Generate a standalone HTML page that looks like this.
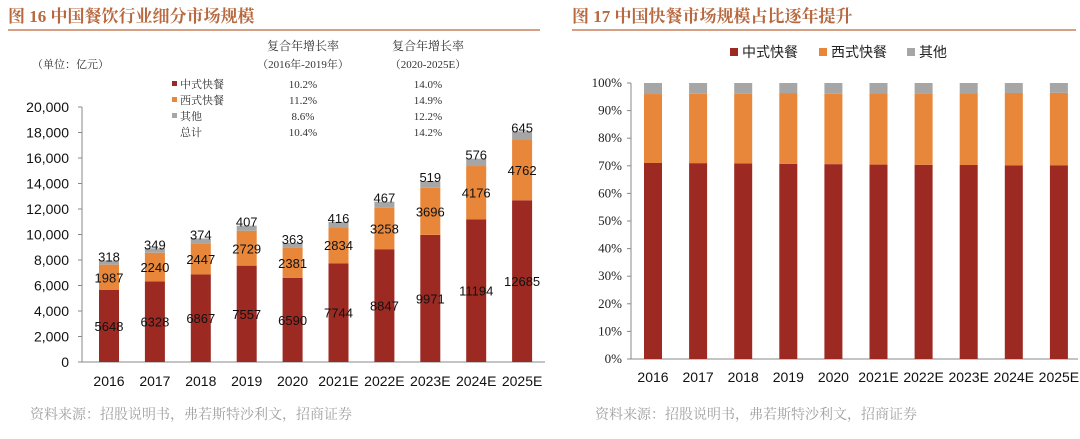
<!DOCTYPE html>
<html><head><meta charset="utf-8"><style>
body{margin:0;background:#fff;width:1080px;height:434px;overflow:hidden;font-family:"Liberation Sans","Noto Sans CJK SC",sans-serif}
svg text{font-family:"Liberation Sans","Noto Sans CJK SC",sans-serif}
svg text.sf, svg .sf text{font-family:"Liberation Serif","Noto Serif CJK SC",serif}
</style></head><body>
<svg id="c" width="1080" height="434">
<g>
<text class="sf" x="8" y="22" font-size="17" font-weight="bold" fill="#b8683e">图 16  中国餐饮行业细分市场规模</text>
<line x1="8" y1="30" x2="540" y2="30" stroke="#c7805a" stroke-width="1.5"/>
</g>
<g>
<text class="sf" x="572" y="22" font-size="17" font-weight="bold" fill="#b8683e">图 17 中国快餐市场规模占比逐年提升</text>
<line x1="572" y1="30" x2="1076" y2="30" stroke="#c7805a" stroke-width="1.5"/>
</g>
<text class="sf" x="32" y="68" font-size="11" fill="#333">（单位：亿元）</text>
<g class="sf" font-size="11" fill="#333">
<text x="303" y="50" text-anchor="middle" font-size="12">复合年增长率</text>
<text x="303" y="68" text-anchor="middle">（2016年-2019年）</text>
<text x="428" y="50" text-anchor="middle" font-size="12">复合年增长率</text>
<text x="428" y="68" text-anchor="middle">（2020-2025E）</text>
<rect x="172" y="81" width="5" height="5" fill="#9c2a22"/><text x="180" y="88">中式快餐</text>
<rect x="172" y="97" width="5" height="5" fill="#e8873a"/><text x="180" y="104">西式快餐</text>
<rect x="172" y="113" width="5" height="5" fill="#a6a6a6"/><text x="180" y="120">其他</text>
<text x="180" y="136">总计</text>
<text x="303" y="88" text-anchor="middle">10.2%</text><text x="428" y="88" text-anchor="middle">14.0%</text>
<text x="303" y="104" text-anchor="middle">11.2%</text><text x="428" y="104" text-anchor="middle">14.9%</text>
<text x="303" y="120" text-anchor="middle">8.6%</text><text x="428" y="120" text-anchor="middle">12.2%</text>
<text x="303" y="136" text-anchor="middle">10.4%</text><text x="428" y="136" text-anchor="middle">14.2%</text>
</g>
<g>
<rect x="730" y="48" width="8" height="8" fill="#9c2a22"/><text x="742" y="57" font-size="14" fill="#222">中式快餐</text>
<rect x="819" y="48" width="8" height="8" fill="#e8873a"/><text x="831" y="57" font-size="14" fill="#222">西式快餐</text>
<rect x="907" y="48" width="8" height="8" fill="#a6a6a6"/><text x="919" y="57" font-size="14" fill="#222">其他</text>
</g>
<g id="L"></g>
<g id="R"></g>
<text class="sf" x="30" y="419" font-size="14" fill="#a0a0a0">资料来源：招股说明书，弗若斯特沙利文，招商证券</text>
<text class="sf" x="595" y="419" font-size="14" fill="#a0a0a0">资料来源：招股说明书，弗若斯特沙利文，招商证券</text>
</svg>
<script>
const years=["2016","2017","2018","2019","2020","2021E","2022E","2023E","2024E","2025E"];
const chinese=[5648,6328,6867,7557,6590,7744,8847,9971,11194,12685];
const western=[1987,2240,2447,2729,2381,2834,3258,3696,4176,4762];
const others=[318,349,374,407,363,416,467,519,576,645];
const leftTicks=[0,2000,4000,6000,8000,10000,12000,14000,16000,18000,20000];
const rightTicks=[0,10,20,30,40,50,60,70,80,90,100];
const NS="http://www.w3.org/2000/svg";
const cols=["#9c2a22","#e8873a","#a6a6a6"];
function mk(p,t,a){const e=document.createElementNS(NS,t);for(const k in a)e.setAttribute(k,a[k]);p.appendChild(e);return e;}
const L=document.getElementById('L');
const ly=v=>362-v*255/20000, lx=i=>109+i*45.9;
mk(L,'line',{x1:82,y1:107,x2:82,y2:362,stroke:'#888'});
mk(L,'line',{x1:82,y1:362,x2:545,y2:362,stroke:'#888'});
leftTicks.forEach(t=>{
 const tl=mk(L,'line',{x1:78,y1:ly(t),x2:82,y2:ly(t),stroke:'#888'});
 
 
 const tx=mk(L,'text',{x:69,y:ly(t)+5,'text-anchor':'end','font-size':14,fill:'#111'});
 tx.textContent=t.toLocaleString('en-US');
 
 
});
years.forEach((y,i)=>{
 const segs=[chinese[i],western[i],others[i]];let base=0;
 segs.forEach((v,k)=>{
  const r=mk(L,'rect',{x:lx(i)-10,y:ly(base+v),width:20,height:ly(base)-ly(base+v),fill:cols[k]});
  
  
  const ty=k<2?(ly(base)+ly(base+v))/2+5:ly(base+v)+1;
  const t=mk(L,'text',{x:lx(i),y:ty,'text-anchor':'middle','font-size':13,fill:'#111'});
  t.textContent=v;
  
  
  base+=v;
 });
 const xl=mk(L,'text',{x:lx(i),y:386,'text-anchor':'middle','font-size':14,fill:'#111'});
 xl.textContent=y;
 
 
});
const R=document.getElementById('R');
const ry=p=>359-p*276/100, rx=i=>653+i*45.1;
mk(R,'line',{x1:631,y1:83,x2:631,y2:359,stroke:'#888'});
mk(R,'line',{x1:631,y1:359,x2:1078,y2:359,stroke:'#888'});
rightTicks.forEach(t=>{
 const tl=mk(R,'line',{x1:627,y1:ry(t),x2:631,y2:ry(t),stroke:'#888'});
 
 
 const tx=mk(R,'text',{x:622,y:ry(t)+4,'text-anchor':'end','font-size':13,fill:'#222','class':'sf'});
 tx.textContent=t+'%';
 
 
});
years.forEach((y,i)=>{
 const tot=chinese[i]+western[i]+others[i];
 const segs=[chinese[i],western[i],others[i]].map(v=>v/tot*100);let base=0;
 segs.forEach((v,k)=>{
  const r=mk(R,'rect',{x:rx(i)-9,y:ry(base+v),width:18,height:ry(base)-ry(base+v),fill:cols[k]});
  
  
  base+=v;
 });
 const xl=mk(R,'text',{x:rx(i),y:382,'text-anchor':'middle','font-size':14,fill:'#111'});
 xl.textContent=y;
 
 
});
</script>
</body></html>
